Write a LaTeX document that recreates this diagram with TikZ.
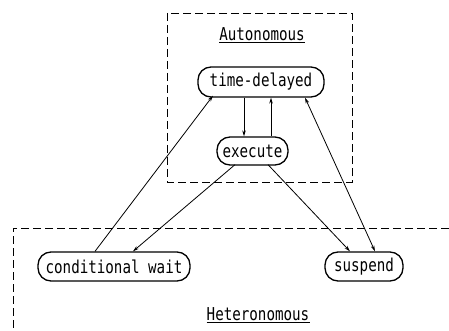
\documentclass[tikz,border=0pt]{standalone}
\usepackage{graphicx}
\usepackage{fontspec}
\setmonofont{DejaVu Sans Mono}
\usetikzlibrary{arrows.meta}
\newcommand\talltext[1]{\scalebox{1}[1.25]{#1}}
\begin{document}
\begin{tikzpicture}[x=1pt,y=-1pt,
  state/.style={draw,line width=1.3pt,rounded corners=13pt,inner sep=0pt,font=\ttfamily\fontsize{14.2}{16}\selectfont},
  conn/.style={line width=0.8pt,-{Stealth[length=6pt,width=3.5pt]}},
  region/.style={line width=0.8pt,dash pattern=on 8pt off 4pt},
  lbl/.style={font=\ttfamily\fontsize{14.2}{16}\selectfont,inner sep=0pt}]
\useasboundingbox (0,0) rectangle (449,331);
\draw[region] (167,13) rectangle (352,182);
\draw[region] (449,228) -- (13,228) -- (13,331);
\node[lbl] (auto) at (262,34) {\talltext{Autonomous}};
\draw[line width=0.7pt] ([yshift=-2pt]auto.south west) -- ([yshift=-2pt]auto.south east);
\node[lbl] (hetero) at (258,314) {\talltext{Heteronomous}};
\draw[line width=0.7pt] ([yshift=-2pt]hetero.south west) -- ([yshift=-2pt]hetero.south east);
\node[state,minimum width=126pt,minimum height=30pt] (td) at (261,82) {\talltext{time-delayed}};
\node[state,minimum width=71pt,minimum height=28pt] (ex) at (252.5,151) {\talltext{execute}};
\node[state,minimum width=152pt,minimum height=29pt] (cw) at (114,266.5) {\talltext{conditional wait}};
\node[state,minimum width=78pt,minimum height=29pt] (su) at (364,266.5) {\talltext{suspend}};
\draw[conn] ([xshift=-17pt]td.south) -- ([xshift=-8.5pt]ex.north);
\draw[conn] ([xshift=18.5pt]ex.north) -- ([xshift=10pt]td.south);
\draw[conn] ([xshift=-19pt]cw.north) -- ([xshift=-48pt,yshift=2pt]td.south);
\draw[conn] ([xshift=-17.5pt,yshift=1pt]ex.south) -- ([xshift=19pt]cw.north);
\draw[conn] ([xshift=15.5pt,yshift=1pt]ex.south) -- ([xshift=-14pt]su.north);
\draw[conn,{Stealth[length=6pt,width=3.5pt]}-{Stealth[length=6pt,width=3.5pt]}] ([xshift=11pt]su.north) -- ([xshift=44pt]td.south);
\end{tikzpicture}
\end{document}
